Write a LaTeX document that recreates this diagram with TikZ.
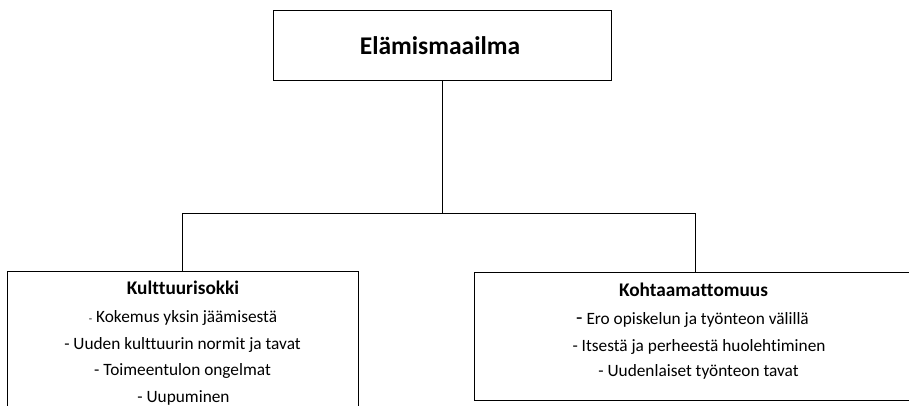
\documentclass[tikz,border=0pt]{standalone}
\usepackage{fontspec}
\setmainfont{Carlito}[Ligatures=NoCommon]
\begin{document}
\begin{tikzpicture}[x=1pt,y=-1pt,
  box/.style={draw=black,line width=1pt,rectangle,inner sep=0pt},
  titletext/.style={anchor=base,inner sep=0pt,font=\fontsize{25.5}{30}\selectfont\bfseries},
  headtext/.style={anchor=base,inner sep=0pt,font=\fontsize{19.3}{23}\selectfont\bfseries},
  itemtext/.style={anchor=base,inner sep=0pt,font=\fontsize{17.3}{21}\selectfont},
  link/.style={draw=black,line width=1pt}]
\useasboundingbox (0,0) rectangle (909,406);
\clip (0,0) rectangle (909,406);

% boxes
\node[box,minimum width=337.5pt,minimum height=70pt] (top) at (442.5,46) {};
\node[box,minimum width=351pt,minimum height=160pt] (lbox) at (182.8,351.7) {};
\node[box,minimum width=442pt,minimum height=128pt] (rbox) at (695,336) {};

% connectors
\draw[link] (top.south) -- ++(0,132) coordinate (j);
\draw[link] (lbox.north) |- (j) -| (rbox.north);

% texts
\node[titletext] (t0) at (440,55) {Elämismaailma};

\node[headtext] (l0) at (183,294) {Kulttuurisokki};
\node[itemtext] (l1) at (183,322.7) {{\fontsize{11}{13}\selectfont -} Kokemus yksin jäämisestä};
\node[itemtext] (l2) at (182.5,349.3) {- Uuden kulttuurin normit ja tavat};
\node[itemtext] (l3) at (182.5,375.7) {- Toimeentulon ongelmat};
\node[itemtext] (l4) at (183.5,402.3) {- Uupuminen};

\node[headtext] (r0) at (693.5,296.7) {Kohtaamattomuus};
\node[itemtext] (r1) at (692.5,324) {{\fontsize{21}{24}\selectfont -} Ero opiskelun ja työnteon välillä};
\node[itemtext] (r2) at (699,351.7) {- Itsestä ja perheestä huolehtiminen};
\node[itemtext] (r3) at (698.5,376.7) {- Uudenlaiset työnteon tavat};
\end{tikzpicture}
\end{document}
